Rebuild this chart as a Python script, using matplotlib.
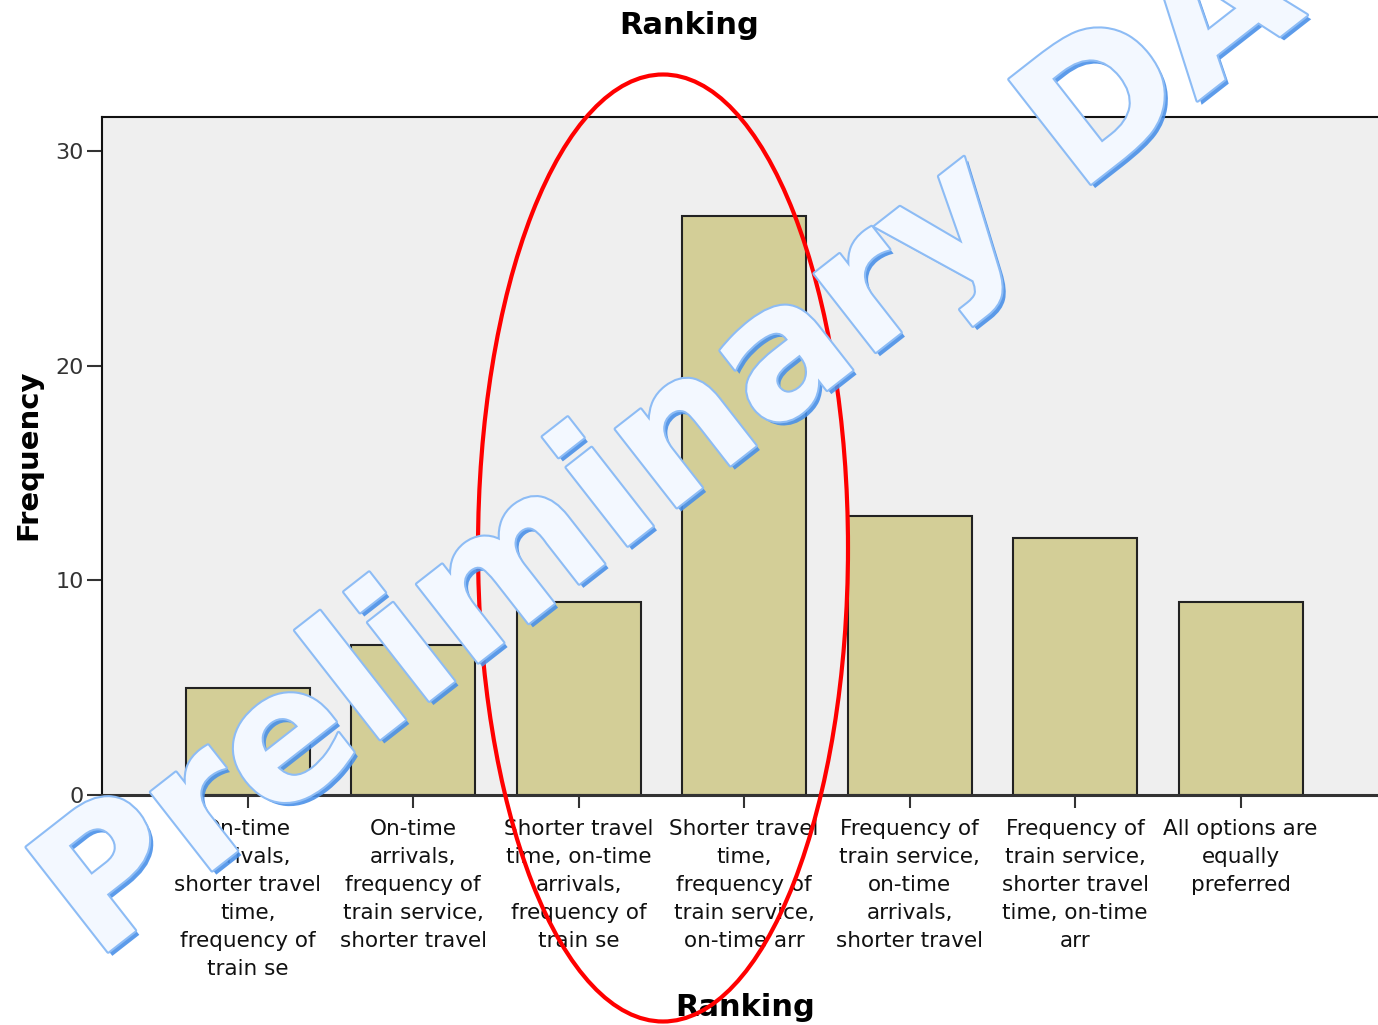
import matplotlib
matplotlib.use("Agg")
import matplotlib.pyplot as plt
from matplotlib.patches import Ellipse
import matplotlib.patheffects as pe

# data
categories = [
    "On-time\narrivals,\nshorter travel\ntime,\nfrequency of\ntrain se",
    "On-time\narrivals,\nfrequency of\ntrain service,\nshorter travel",
    "Shorter travel\ntime, on-time\narrivals,\nfrequency of\ntrain se",
    "Shorter travel\ntime,\nfrequency of\ntrain service,\non-time arr",
    "Frequency of\ntrain service,\non-time\narrivals,\nshorter travel",
    "Frequency of\ntrain service,\nshorter travel\ntime, on-time\narr",
    "All options are\nequally\npreferred",
]
frequency = [5, 7, 9, 27, 13, 12, 9]
y_ticks = [0, 10, 20, 30]

W, H = 1378, 1025
fig = plt.figure(figsize=(W / 100, H / 100), dpi=100)
fig.patch.set_facecolor("white")

# main axes, placed in pixel terms
ax = fig.add_axes([102 / W, 1 - 795 / H, 1 - 102 / W, (795 - 117) / H])
ax.set_facecolor("#efefef")
x = list(range(len(frequency)))
ax.bar(x, frequency, width=0.75, color="#d3ce97", edgecolor="#222222",
       linewidth=1.5, zorder=2)
ax.set_xlim(-0.88, 6.83)
ax.set_ylim(0, 31.6)
ax.set_yticks(y_ticks)
ax.set_xticks(x)
ax.set_xticklabels(categories, fontsize=15.5, linespacing=1.5, color="#111111")
ax.tick_params(axis="x", length=9, width=1.5, color="#333333", pad=8)
ax.tick_params(axis="y", length=11, width=1.5, color="#333333", pad=2,
               labelsize=16, labelcolor="#333333")

for s in ["left", "top"]:
    ax.spines[s].set_linewidth(1.5)
    ax.spines[s].set_color("#111111")
ax.spines["bottom"].set_linewidth(2.2)
ax.spines["bottom"].set_color("#333333")
ax.spines["right"].set_visible(False)

fig.text(689 / W, 1 - 25 / H, "Ranking", ha="center", va="center",
         fontsize=22, fontweight="bold")
fig.text(745 / W, 1 - 1007 / H, "Ranking", ha="center", va="center",
         fontsize=22, fontweight="bold")
fig.text(28 / W, 1 - 455 / H, "Frequency", ha="center", va="center",
         rotation=90, fontsize=21, fontweight="bold")

# overlay in pixel coordinates for the watermark and the red ellipse
ov = fig.add_axes([0, 0, 1, 1], zorder=10)
ov.set_xlim(0, W)
ov.set_ylim(H, 0)
ov.axis("off")
ov.patch.set_alpha(0)

ov.text(95, 962, "Preliminary DATA", rotation=38, rotation_mode="anchor",
        ha="left", va="baseline", fontsize=131, fontweight="bold",
        color="#f3f8ff", clip_on=False,
        path_effects=[pe.SimplePatchShadow(offset=(3, -3), shadow_rgbFace="#4a90e8", alpha=0.9),
                      pe.Stroke(linewidth=3, foreground="#8dbcf5"),
                      pe.Normal()])

ov.add_patch(Ellipse((663, 548), 370, 947, fill=False, edgecolor="#ff0000",
                     linewidth=3))

fig.savefig("out.png", dpi=100)
